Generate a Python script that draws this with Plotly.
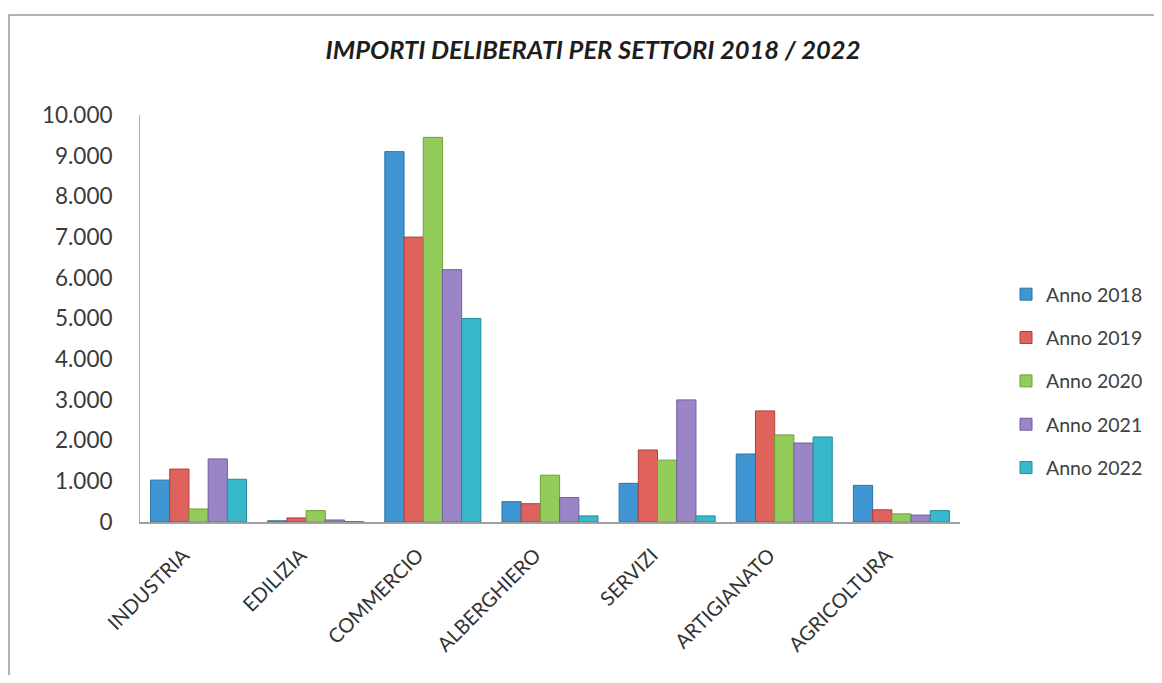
import plotly.graph_objects as go

categories = ["INDUSTRIA", "EDILIZIA", "COMMERCIO", "ALBERGHIERO", "SERVIZI", "ARTIGIANATO", "AGRICOLTURA"]
series_names = ["Anno 2018", "Anno 2019", "Anno 2020", "Anno 2021", "Anno 2022"]
anno_2018 = [1030, 30, 9100, 500, 950, 1670, 900]
anno_2019 = [1300, 100, 7000, 450, 1770, 2730, 300]
anno_2020 = [320, 280, 9450, 1150, 1520, 2140, 200]
anno_2021 = [1550, 50, 6200, 600, 3000, 1940, 170]
anno_2022 = [1050, 10, 5000, 150, 150, 2090, 280]
y_ticks = [0, 1000, 2000, 3000, 4000, 5000, 6000, 7000, 8000, 9000, 10000]

values = [anno_2018, anno_2019, anno_2020, anno_2021, anno_2022]
colors = ["#3F96D2", "#E0625C", "#93CC5A", "#9A85C6", "#38B8CB"]
edge = ["#2C73A6", "#AF3F3A", "#6E9F3C", "#725E9B", "#268C9C"]

fig = go.Figure()
for name, vals, c, e in zip(series_names, values, colors, edge):
    fig.add_trace(go.Bar(
        x=categories, y=vals, name=name, legendgroup=name,
        marker=dict(color=c, line=dict(color=e, width=1)),
    ))

W, H = 1146, 667
L, R, T, B = 132, 194, 107, 153
pw, ph = W - L - R, H - T - B

fig.update_layout(
    width=W, height=H,
    paper_bgcolor="white", plot_bgcolor="white",
    margin=dict(l=L, r=R, t=T, b=B, autoexpand=False),
    separators=",.",
    barmode="group", bargap=0.18, bargroupgap=0.0,
    font=dict(family="Lato, Open Sans, sans-serif", color="#404040"),
    title=dict(
        text="<b><i>IMPORTI DELIBERATI PER SETTORI 2018 / 2022</i></b>",
        x=(593 - 8) / W, xanchor="center", xref="container",
        y=1 - 42 / H, yanchor="middle",
        font=dict(size=25.5, color="#1E1E1E"),
    ),
    legend=dict(
        xref="container", yref="container",
        x=(1006 - 8) / W, y=1 - (381 - 8) / H, xanchor="left", yanchor="middle",
        font=dict(size=19.5, color="#404040"),
        tracegroupgap=15, itemwidth=30,
        bgcolor="rgba(0,0,0,0)",
    ),
    showlegend=True,
)
fig.update_xaxes(
    tickangle=-45,
    tickfont=dict(size=20, color="#333333"),
    showline=True, linecolor="#A0A0A0", linewidth=1.5,
    showgrid=False, ticks="",
    ticklabelshift=-15, ticklabelstandoff=12,
)
fig.update_yaxes(
    range=[0, 10000],
    tickvals=y_ticks, tickformat=",d",
    tickfont=dict(size=22.5, color="#3A3A3A"),
    showline=True, linecolor="#B0B0B0", linewidth=1,
    showgrid=False, zeroline=False, ticks="", ticklen=0,
    ticklabelstandoff=22,
)
fig.add_shape(type="rect", xref="paper", yref="paper",
              x0=(1 - L) / pw, x1=(W + 20 - L) / pw,
              y0=(T + ph - H - 20) / ph, y1=(T + ph - 7) / ph,
              line=dict(color="#9A9A9A", width=1.5), layer="below")

fig.write_html("out.html")
